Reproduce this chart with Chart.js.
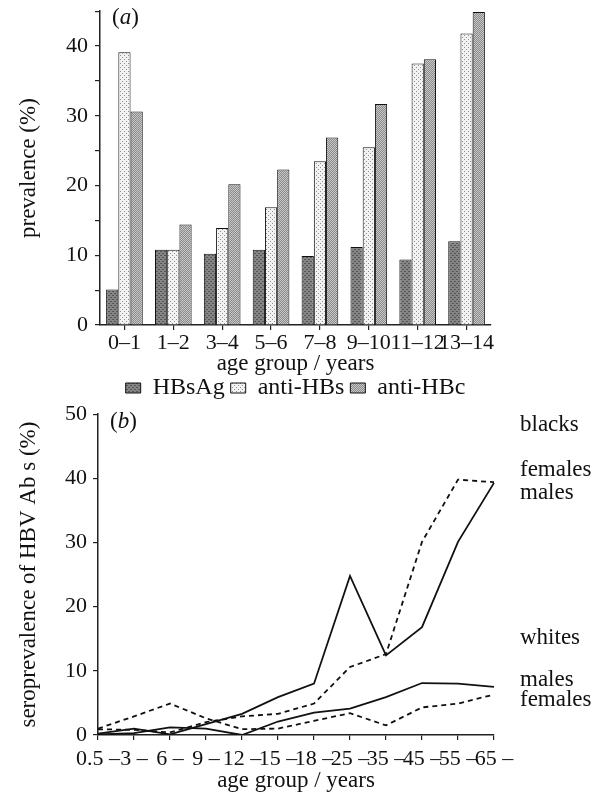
<!DOCTYPE html>
<html>
<head>
<meta charset="utf-8">
<script src="https://cdn.jsdelivr.net/npm/chart.js@4.4.1/dist/chart.umd.min.js"></script>
<style>
  body { margin: 0; background: #fff; }
  #wrapA { position: absolute; left: 0; top: -9px; }
  #wrapB { position: absolute; left: 0; top: 395px; }
</style>
</head>
<body>
<div id="wrapA"><canvas id="chartA" width="562" height="419"></canvas></div>
<div id="wrapB"><canvas id="chartB" width="599" height="400"></canvas></div>
<script>
// panel (a): prevalence by age group
const ageGroupsA = ['0–1', '1–2', '3–4', '5–6', '7–8', '9–10', '11–12', '13–14'];
const hbsag = [5.1, 10.8, 10.2, 10.8, 9.9, 11.2, 9.4, 12.0];
const antiHBs = [39.1, 10.8, 13.9, 16.9, 23.5, 25.5, 37.5, 41.8];
const antiHBc = [30.6, 14.4, 20.2, 22.3, 26.9, 31.7, 38.1, 44.9];

// panel (b): seroprevalence by age group
const ageGroupsB = ['0.5 –', '3 –', '6 –', '9 –', '12 –', '15 –', '18 –', '25 –', '35 –', '45 –', '55 –', '65 –'];
const blacksMales = [0.2, 1.0, 0.1, 1.7, 3.3, 5.9, 8.0, 24.8, 12.4, 16.8, 30.1, 39.3];
const blacksFemales = [0.9, 0.8, 0.4, 2.0, 2.9, 3.3, 4.9, 10.6, 12.6, 30.1, 39.8, 39.4];
const whitesMales = [0.1, 0.3, 1.2, 1.0, 0.0, 2.1, 3.5, 4.1, 5.9, 8.1, 8.0, 7.5];
const whitesFemales = [1.0, 2.9, 4.9, 2.6, 0.9, 1.0, 2.2, 3.4, 1.5, 4.3, 4.9, 6.3];

const serif = '"Liberation Serif", "Times New Roman", serif';
Chart.defaults.font.family = serif;
Chart.defaults.font.size = 22;
Chart.defaults.color = '#111';

// small tiled fills to mimic the printed hatching
function makePattern(base, ink, cells) {
  const c = document.createElement('canvas');
  c.width = 4; c.height = 4;
  const g = c.getContext('2d');
  g.fillStyle = base;
  g.fillRect(0, 0, 4, 4);
  g.fillStyle = ink;
  cells.forEach(p => g.fillRect(p[0], p[1], 1, 1));
  return g.createPattern(c, 'repeat');
}
const fillHBsAg = makePattern('#858585', '#555555', [[0, 0], [1, 0], [2, 2], [3, 2]]);
const fillAntiHBs = makePattern('#f2f2f2', '#8f8f8f', [[0, 0], [2, 2]]);
const fillAntiHBc = makePattern('#c8c8c8', '#8a8a8a', [[0, 0], [2, 0], [1, 1], [3, 1], [0, 2], [2, 2], [1, 3], [3, 3]]);

// draws extra text (panel letters, group names)
const textLabels = {
  id: 'textLabels',
  afterDraw(chart, args, opts) {
    const ctx = chart.ctx;
    ctx.save();
    ctx.fillStyle = '#111';
    ctx.textBaseline = 'middle';
    ctx.textAlign = 'left';
    opts.items.forEach(it => {
      let x = it.x;
      it.parts.forEach(p => {
        ctx.font = (p.italic ? 'italic ' : '') + '23px ' + serif;
        ctx.fillText(p.t, x, it.y);
        x += ctx.measureText(p.t).width;
      });
    });
    ctx.restore();
  }
};

const axisGrid = { drawOnChartArea: false, drawTicks: true, tickLength: 5, color: '#222', lineWidth: 1.2 };
const axisBorder = { display: true, color: '#222', width: 1.5 };

new Chart(document.getElementById('chartA'), {
  type: 'bar',
  data: {
    labels: ageGroupsA,
    datasets: [
      { label: 'HBsAg', data: hbsag, backgroundColor: fillHBsAg, borderColor: '#111', borderWidth: 1 },
      { label: 'anti-HBs', data: antiHBs, backgroundColor: fillAntiHBs, borderColor: '#111', borderWidth: 1 },
      { label: 'anti-HBc', data: antiHBc, backgroundColor: fillAntiHBc, borderColor: '#111', borderWidth: 1 }
    ]
  },
  options: {
    responsive: false,
    animation: false,
    layout: { padding: { top: 0, right: 71, left: 0, bottom: 0 } },
    datasets: { bar: { categoryPercentage: 0.75, barPercentage: 1.0 } },
    scales: {
      x: {
        grid: Object.assign({}, axisGrid, { offset: false }),
        border: axisBorder,
        ticks: { autoSkip: false, maxRotation: 0, padding: 0 },
        title: { display: true, text: 'age group / years', font: { size: 23 }, padding: { top: 0, bottom: -8 } },
        afterFit: s => { s.height = 45; }
      },
      y: {
        min: 0, max: 45,
        grid: axisGrid,
        border: axisBorder,
        ticks: { stepSize: 5, padding: 7, callback: v => (v % 10 === 0 ? v : '') },
        title: { display: true, text: 'prevalence (%)', font: { size: 23 }, padding: { top: 15, bottom: 0 } },
        afterFit: s => { s.width = 100; }
      }
    },
    plugins: {
      legend: {
        position: 'bottom',
        fullSize: false,
        labels: { boxWidth: 15, boxHeight: 10, padding: 6, font: { size: 24 } }
      },
      tooltip: { enabled: false },
      textLabels: { items: [
        { x: 112, y: 27, parts: [{ t: '(' }, { t: 'a', italic: true }, { t: ')' }] }
      ] }
    }
  },
  plugins: [textLabels]
});

const lineStyle = (label, data, dashed) => ({
  label: label,
  data: data,
  borderColor: '#111',
  borderWidth: 1.8,
  borderDash: dashed ? [5, 4] : [],
  pointRadius: 0,
  tension: 0,
  fill: false
});

new Chart(document.getElementById('chartB'), {
  type: 'line',
  data: {
    labels: ageGroupsB,
    datasets: [
      lineStyle('blacks males', blacksMales, false),
      lineStyle('blacks females', blacksFemales, true),
      lineStyle('whites males', whitesMales, false),
      lineStyle('whites females', whitesFemales, true)
    ]
  },
  options: {
    responsive: false,
    animation: false,
    layout: { padding: { top: 17, right: 105, left: 0, bottom: 0 } },
    scales: {
      x: {
        offset: false,
        grid: axisGrid,
        border: axisBorder,
        ticks: { autoSkip: false, maxRotation: 0, padding: 6 },
        title: { display: true, text: 'age group / years', font: { size: 23 }, padding: 0 },
        afterFit: s => { s.height = 60; }
      },
      y: {
        min: 0, max: 50,
        grid: axisGrid,
        border: axisBorder,
        ticks: { stepSize: 10, padding: 6 },
        title: { display: true, text: 'seroprevalence of HBV Ab s (%)', font: { size: 23 }, padding: { top: 15, bottom: 0 } },
        afterFit: s => { s.width = 98; }
      }
    },
    plugins: {
      legend: { display: false },
      tooltip: { enabled: false },
      textLabels: { items: [
        { x: 110, y: 27, parts: [{ t: '(' }, { t: 'b', italic: true }, { t: ')' }] },
        { x: 520, y: 30, parts: [{ t: 'blacks' }] },
        { x: 520, y: 75, parts: [{ t: 'females' }] },
        { x: 520, y: 98, parts: [{ t: 'males' }] },
        { x: 520, y: 243, parts: [{ t: 'whites' }] },
        { x: 520, y: 285, parts: [{ t: 'males' }] },
        { x: 520, y: 305, parts: [{ t: 'females' }] }
      ] }
    }
  },
  plugins: [textLabels]
});
</script>
</body>
</html>
